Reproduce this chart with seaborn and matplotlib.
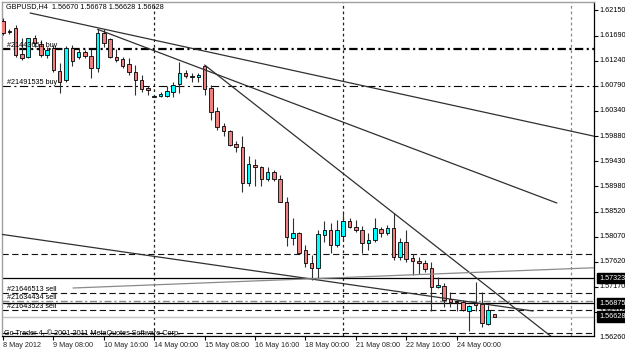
import matplotlib
matplotlib.use("Agg")
import matplotlib.pyplot as plt
import matplotlib.transforms as mtransforms
import numpy as np
import pandas as pd
import seaborn as sns

# ---------------- data ----------------
symbol_title = "GBPUSD,H4  1.56670 1.56678 1.56628 1.56628"
copyright_text = "Go Trader 4, \u00a9 2001-2011 MetaQuotes Software Corp."

opens = [1.61952, 1.61772, 1.61826, 1.61358, 1.61309, 1.61641, 1.61533, 1.61340, 1.61461, 1.61052,
         1.60890, 1.61466, 1.61299, 1.61394, 1.61322, 1.61101, 1.61741, 1.61623, 1.61299, 1.61263,
         1.61178, 1.61034, 1.60890, 1.60746, 1.60611, 1.60602, 1.60607, 1.60679, 1.60813, 1.61021,
         1.60971, 1.60939, 1.61142, 1.60751, 1.60337, 1.60062, 1.59972, 1.59733, 1.59679, 1.59031,
         1.59355, 1.59319, 1.59103, 1.59229, 1.59103, 1.58699, 1.58041, 1.58131, 1.57830, 1.57591,
         1.57501, 1.58100, 1.58190, 1.57920, 1.58087, 1.58352, 1.58249, 1.58190, 1.57951, 1.58010,
         1.58208, 1.58131, 1.58231, 1.57709, 1.57969, 1.57681, 1.57632, 1.57591, 1.57501, 1.57164,
         1.57182, 1.56943, 1.56912, 1.56899, 1.56732, 1.56871, 1.56853, 1.56493, 1.56670]
highs = [1.62006, 1.61808, 1.61880, 1.61646, 1.61651, 1.61700, 1.61610, 1.61489, 1.61520, 1.61196,
         1.61502, 1.61520, 1.61443, 1.61439, 1.61457, 1.61803, 1.61808, 1.61646, 1.61443, 1.61309,
         1.61281, 1.61160, 1.60980, 1.60782, 1.60620, 1.60679, 1.60787, 1.60859, 1.61214, 1.61070,
         1.61021, 1.61011, 1.61160, 1.60800, 1.60409, 1.60111, 1.59990, 1.59792, 1.59882, 1.59522,
         1.59463, 1.59342, 1.59319, 1.59270, 1.59180, 1.58789, 1.58401, 1.58159, 1.57920, 1.57740,
         1.58190, 1.58352, 1.58311, 1.58370, 1.58496, 1.58401, 1.58370, 1.58267, 1.58131, 1.58401,
         1.58249, 1.58280, 1.58491, 1.58041, 1.58190, 1.57753, 1.57709, 1.57650, 1.57619, 1.57349,
         1.57231, 1.57069, 1.56930, 1.56930, 1.56840, 1.57259, 1.57069, 1.56840, 1.56678]
lows = [1.61700, 1.61718, 1.61304, 1.61250, 1.61281, 1.61489, 1.61309, 1.61281, 1.61039, 1.60656,
        1.60854, 1.61142, 1.61263, 1.61286, 1.60926, 1.61039, 1.61489, 1.61286, 1.61214, 1.61101,
        1.60980, 1.60620, 1.60679, 1.60620, 1.60584, 1.60589, 1.60589, 1.60589, 1.60656, 1.60926,
        1.60859, 1.60859, 1.60620, 1.60170, 1.59990, 1.59882, 1.59702, 1.59599, 1.58879, 1.58982,
        1.58982, 1.58982, 1.59077, 1.59077, 1.58694, 1.57902, 1.57920, 1.57771, 1.57530, 1.57290,
        1.57321, 1.57979, 1.57771, 1.57884, 1.58010, 1.58221, 1.58159, 1.57771, 1.57830, 1.57979,
        1.58069, 1.58100, 1.57650, 1.57650, 1.57619, 1.57380, 1.57393, 1.57439, 1.56732, 1.57141,
        1.56809, 1.56809, 1.56732, 1.56732, 1.56372, 1.56732, 1.56449, 1.56480, 1.56628]
closes = [1.61736, 1.61754, 1.61340, 1.61295, 1.61641, 1.61551, 1.61340, 1.61430, 1.61070, 1.60859,
          1.61475, 1.61232, 1.61399, 1.61322, 1.61106, 1.61741, 1.61551, 1.61304, 1.61250, 1.61151,
          1.61039, 1.60890, 1.60728, 1.60710, 1.60593, 1.60638, 1.60692, 1.60800, 1.61021, 1.60962,
          1.60944, 1.60980, 1.60728, 1.60319, 1.60049, 1.59972, 1.59720, 1.59679, 1.59031, 1.59373,
          1.59319, 1.59103, 1.59229, 1.59103, 1.58699, 1.58069, 1.58131, 1.57781, 1.57591, 1.57501,
          1.58113, 1.58190, 1.57920, 1.58190, 1.58357, 1.58249, 1.58190, 1.57951, 1.58010, 1.58221,
          1.58131, 1.58221, 1.57709, 1.57969, 1.57668, 1.57632, 1.57591, 1.57488, 1.57169, 1.57200,
          1.56930, 1.56889, 1.56889, 1.56750, 1.56822, 1.56840, 1.56511, 1.56750, 1.56628]

time_tick_bars = [0, 8, 16, 24, 32, 40, 48, 56, 64, 72]
time_tick_labels = ["8 May 2012", "9 May 08:00", "10 May 16:00", "14 May 00:00", "15 May 08:00",
                    "16 May 16:00", "18 May 00:00", "21 May 08:00", "22 May 16:00", "24 May 00:00"]

price_ticks = [1.62150, 1.61690, 1.61240, 1.60790, 1.60340, 1.59880, 1.59430, 1.58980,
               1.58520, 1.58070, 1.57620, 1.57170, 1.56710, 1.56260]

separator_bars = [24, 54, 90.2]

# horizontal objects: price, style
hline_prices = [1.61443, 1.60790, 1.57758, 1.57323, 1.57061, 1.56912, 1.56875, 1.56744, 1.56628, 1.56331]
hline_styles = ["thickdashdot", "dashdot", "dashed", "solid", "dashed", "greydashdot", "solid",
                "dashed", "bid", "dashed"]
order_labels = ["#21443651 buy", "#21491535 buy", "", "", "#21646513 sell", "#21634434 sell", "",
                "#21643523 sell", "", ""]
boxed_prices = [1.57323, 1.56875, 1.56628]

# trend lines (bar index, price)
trend_x0 = [4.3, 15.0, 32.0, -0.6, 11.1]
trend_y0 = [1.62096, 1.61803, 1.61160, 1.58118, 1.57146]
trend_x1 = [95.0, 87.9, 88.5, 84.1, 96.0]
trend_y1 = [1.59849, 1.58676, 1.56140, 1.56732, 1.57520]
trend_colors = ["#303030", "#303030", "#303030", "#303030", "#8a8a8a"]

# ---------------- style ----------------
sns.set_style("white")
plt.rcParams["font.family"] = ["Liberation Sans", "DejaVu Sans"]
plt.rcParams["lines.scale_dashes"] = False
FS = 5.2

fig = plt.figure(figsize=(6.25, 3.53), dpi=100)
ax = fig.add_axes([2 / 625, 17 / 353, 592 / 625, 334 / 353])
ax.set_facecolor("white")

df = pd.DataFrame({"bar": np.arange(len(opens)), "open": opens, "high": highs,
                   "low": lows, "close": closes})
df["bull"] = df["close"] >= df["open"]
df["body_lo"] = df[["open", "close"]].min(axis=1)
df["body_h"] = (df["close"] - df["open"]).abs().clip(lower=0.00012)

# wicks
ax.vlines(df["bar"], df["low"], df["high"], color="#303030", lw=0.8, zorder=3)
# bodies
colors = np.where(df["bull"], "#00FFFF", "#F08080")
ax.bar(df["bar"], df["body_h"], bottom=df["body_lo"], width=0.56, color=colors,
       edgecolor="black", linewidth=0.6, zorder=4)

# period separators
for sb, c in zip(separator_bars, ["#222222", "#222222", "#888888"]):
    ax.axvline(sb, color=c, lw=0.9, linestyle=(0, (2, 2)), zorder=2)

# horizontal lines
style_map = {
    "thickdashdot": dict(color="black", lw=1.6, linestyle=(0, (6, 2.5, 1.5, 2.5))),
    "dashdot": dict(color="black", lw=0.8, linestyle=(0, (6, 2.5, 1.5, 2.5))),
    "dashed": dict(color="#111111", lw=0.8, linestyle=(0, (4.5, 2.5))),
    "solid": dict(color="black", lw=0.9, linestyle="-"),
    "greydashdot": dict(color="#8a8a8a", lw=1.0, linestyle=(0, (5, 2, 1.5, 2))),
    "bid": dict(color="#c4c4c4", lw=1.0, linestyle="-"),
}
for p, st in zip(hline_prices, hline_styles):
    ax.axhline(p, zorder=2, **style_map[st])

# trend lines through seaborn
for x0, y0, x1, y1, c in zip(trend_x0, trend_y0, trend_x1, trend_y1, trend_colors):
    sns.lineplot(x=[x0, x1], y=[y0, y1], ax=ax, color=c, lw=0.9, estimator=None,
                 sort=False, zorder=5)

ax.set_xlim(-0.16, 93.8)
ax.set_ylim(1.56282, 1.62294)

blend = mtransforms.blended_transform_factory(ax.transAxes, ax.transData)
# order labels
for p, lab in zip(hline_prices, order_labels):
    if lab:
        ax.text(0.008, p, lab, transform=blend, fontsize=FS, va="bottom", ha="left",
                color="black", zorder=6)

# price labels on right
for p in price_ticks:
    ax.text(1.0084, p, f"{p:.5f}", transform=blend, fontsize=FS, va="center", ha="left",
            color="black", clip_on=False)
for p in boxed_prices:
    ax.text(1.0084, p, f"{p:.5f}", transform=blend, fontsize=FS, va="center", ha="left",
            color="white", clip_on=False, zorder=10,
            bbox=dict(boxstyle="square,pad=0.25", fc="black", ec="black"))

# ticks
ax.set_yticks([p for p in price_ticks if 1.56282 < p < 1.62294])
ax.set_yticklabels([])
ax.yaxis.tick_right()
ax.tick_params(axis="y", direction="out", length=3, width=0.8, color="black", right=True, left=False)
ax.set_xticks(time_tick_bars)
ax.set_xticklabels(time_tick_labels, fontsize=FS, ha="left")
ax.tick_params(axis="x", direction="out", length=3, width=0.8, color="black", pad=1.5, bottom=True)
ax.set_xlabel("")
ax.set_ylabel("")

for side in ["left", "top"]:
    ax.spines[side].set_color("#a0a0a0")
    ax.spines[side].set_linewidth(1.0)
for side in ["right", "bottom"]:
    ax.spines[side].set_color("black")
    ax.spines[side].set_linewidth(0.9)
    ax.spines[side].set_visible(True)

# titles
ax.text(0.006, 0.986, symbol_title, transform=ax.transAxes, fontsize=FS, va="center",
        ha="left", color="black", zorder=8)
ax.text(0.004, 0.0075, copyright_text, transform=ax.transAxes, fontsize=FS, va="center",
        ha="left", color="black", zorder=8)

fig.savefig("out.png", dpi=100)
